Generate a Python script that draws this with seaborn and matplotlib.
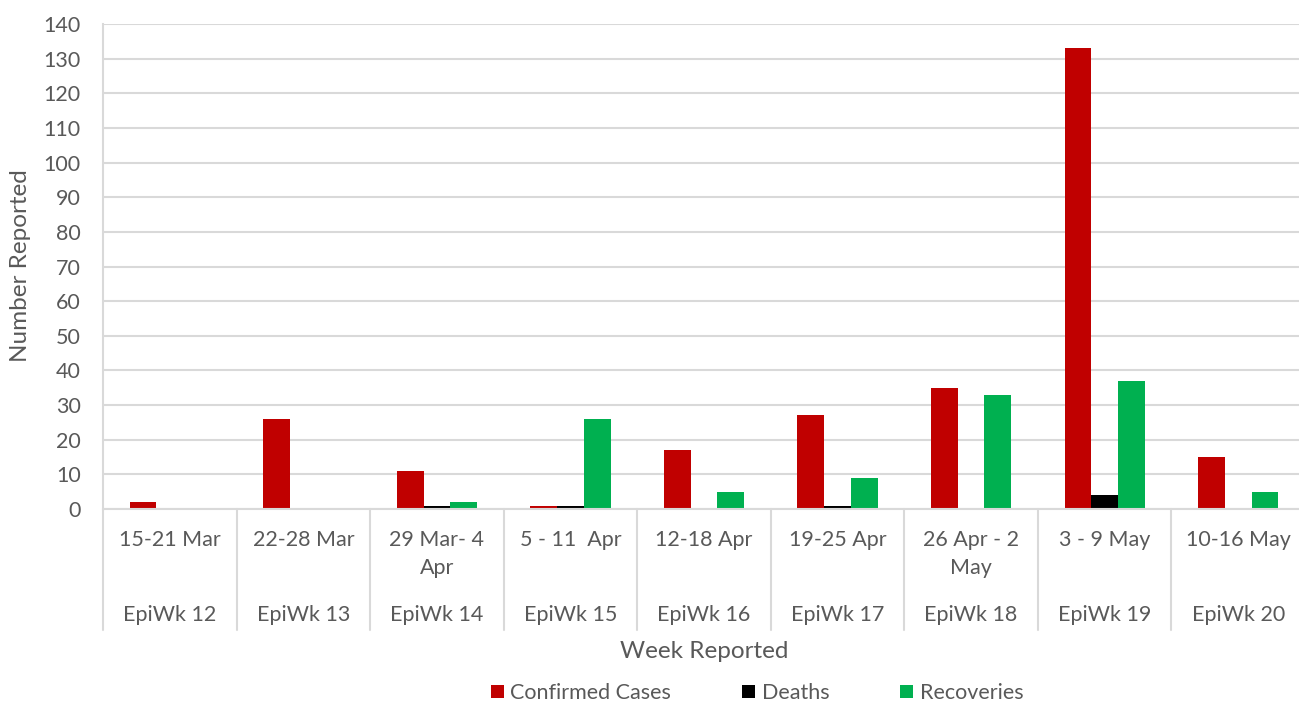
import matplotlib
matplotlib.use("Agg")
import matplotlib.pyplot as plt
import matplotlib.transforms as mtransforms
from matplotlib.lines import Line2D
import seaborn as sns
import pandas as pd

weeks = ["15-21 Mar", "22-28 Mar", "29 Mar- 4\nApr", "5 - 11  Apr", "12-18 Apr",
         "19-25 Apr", "26 Apr - 2\nMay", "3 - 9 May", "10-16 May"]
epiweeks = ["EpiWk 12", "EpiWk 13", "EpiWk 14", "EpiWk 15", "EpiWk 16",
            "EpiWk 17", "EpiWk 18", "EpiWk 19", "EpiWk 20"]
confirmed = [2, 26, 11, 1, 17, 27, 35, 133, 15]
deaths = [0, 0, 1, 1, 0, 1, 0, 4, 0]
recoveries = [0, 0, 2, 26, 5, 9, 33, 37, 5]
series = ["Confirmed Cases", "Deaths", "Recoveries"]
colors = ["#C00000", "#000000", "#00B050"]
yticks = list(range(0, 141, 10))

rows = []
for i, w in enumerate(epiweeks):
    for s, vals in zip(series, [confirmed, deaths, recoveries]):
        rows.append({"week": w, "series": s, "value": vals[i]})
df = pd.DataFrame(rows)

sns.set_style("white")
FONT = ["Lato", "DejaVu Sans"]
plt.rcParams["font.family"] = FONT
TXT = "#595959"
GRID = "#D9D9D9"
FS = 15.5
FS_TITLE = 17.5

fig = plt.figure(figsize=(12.99, 7.05), dpi=100)
W, H = 1299, 705
left, right, top, bottom = 103, 1305, 24, 509
ax = fig.add_axes([left / W, 1 - bottom / H, (right - left) / W, (bottom - top) / H])

sns.barplot(data=df, x="week", y="value", hue="series", hue_order=series,
            palette=colors, width=0.6, gap=0, saturation=1, ax=ax,
            edgecolor="none", legend=False, order=epiweeks)

ax.set_xlim(-0.5, len(epiweeks) - 0.5)
ax.set_ylim(0, 140)
ax.set_yticks(yticks)
ax.set_yticklabels([str(t) for t in yticks], fontsize=FS, color=TXT)
ax.tick_params(axis="y", length=0, pad=16)
ax.set_xticks([])
ax.set_xlabel("")
ax.set_ylabel("")
ax.grid(axis="y", color=GRID, linewidth=1.5)
ax.set_axisbelow(True)
for side in ["top", "right", "bottom"]:
    ax.spines[side].set_visible(False)
ax.spines["left"].set_color(GRID)
ax.spines["left"].set_linewidth(1.5)

trans = mtransforms.blended_transform_factory(ax.transData, fig.transFigure)

def fy(py):
    return 1 - py / H

# category separators
for i in range(len(epiweeks)):
    ax.add_line(Line2D([i - 0.5, i - 0.5], [fy(bottom), fy(630)], transform=trans,
                       color=GRID, linewidth=1.5, clip_on=False))
ax.add_line(Line2D([-0.5, len(epiweeks) - 0.5], [fy(bottom), fy(bottom)], transform=trans,
                   color=GRID, linewidth=1.5, clip_on=False))

for i, (w, e) in enumerate(zip(weeks, epiweeks)):
    for j, line in enumerate(w.split("\n")):
        ax.text(i, fy(540 + 28 * j), line, transform=trans, ha="center", va="center",
                fontsize=FS, color=TXT)
    ax.text(i, fy(615), e, transform=trans, ha="center", va="center",
            fontsize=FS, color=TXT)

fig.text((left + right) / 2 / W, fy(652), "Week Reported", ha="center", va="center",
         fontsize=FS_TITLE, color=TXT)
fig.text(21 / W, fy(266), "Number Reported", ha="center", va="center", rotation=90,
         fontsize=FS_TITLE, color=TXT)

handles = [plt.Rectangle((0, 0), 1, 1, facecolor=c, edgecolor="none") for c in colors]
leg = fig.legend(handles, series, loc="center", bbox_to_anchor=(757 / W, fy(693)),
                 ncol=3, frameon=False, fontsize=FS, handlelength=0.6, handleheight=0.6,
                 handletextpad=0.3, columnspacing=3.3, borderpad=0, borderaxespad=0)
for t in leg.get_texts():
    t.set_color(TXT)

fig.savefig("out.png", dpi=100)
